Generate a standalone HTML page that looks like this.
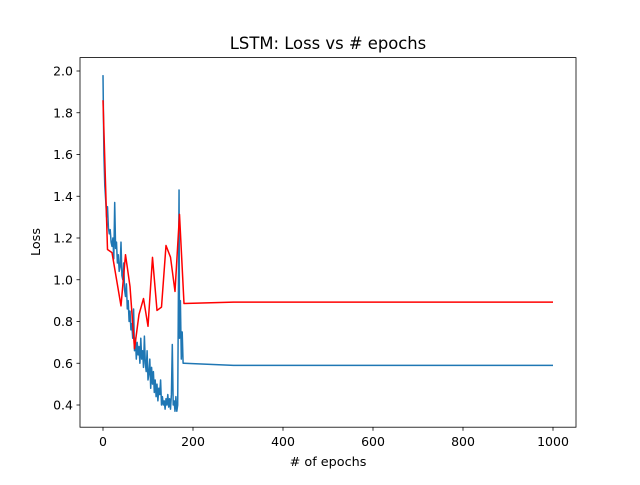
<!DOCTYPE html>
<html><head><meta charset="utf-8"><style>
body{margin:0;background:#fff}
text{font-family:"DejaVu Sans","Liberation Sans",sans-serif;fill:#000}
</style></head><body>
<svg id="chart" width="640" height="480" xmlns="http://www.w3.org/2000/svg">
<rect width="640" height="480" fill="#fff"/>
<text x="328" y="49" font-size="16.4" text-anchor="middle">LSTM: Loss vs # epochs</text>
<text x="328" y="466" font-size="12.8" text-anchor="middle"># of epochs</text>
<text x="40" y="242" font-size="12.8" text-anchor="middle" transform="rotate(-90 40 242)">Loss</text>
<g id="ticks"></g>
<g id="series"></g>
<rect x="80" y="57.6" width="496" height="369.6" fill="none" stroke="#000" stroke-width="0.8"/>
</svg>
<script>
const xTicks=[0,200,400,600,800,1000];
const yTicks=[0.4,0.6,0.8,1.0,1.2,1.4,1.6,1.8,2.0];
const blueEpochs=[0,2,4,6,8,10,12,14,16,18,20,22,24,26,28,30,32,34,36,38,40,42,44,46,48,50,52,54,56,58,60,62,64,66,68,70,72,74,76,78,80,82,84,86,88,90,92,94,96,98,100,102,104,106,108,110,112,114,116,118,120,122,124,126,128,130,132,134,136,138,140,142,144,146,148,150,152,154,156,158,160,162,164,166,169,170,172,174,176,178,180,290,1000];
const blueLoss=[1.98,1.6,1.45,1.38,1.30,1.35,1.25,1.22,1.24,1.18,1.16,1.20,1.10,1.37,1.15,1.18,1.08,1.12,1.04,1.06,1.18,1.02,1.00,1.08,0.95,0.92,0.98,0.86,0.90,0.80,0.85,0.76,0.79,0.72,0.86,0.66,0.72,0.62,0.70,0.64,0.68,0.60,0.72,0.62,0.66,0.58,0.73,0.60,0.56,0.66,0.52,0.55,0.62,0.48,0.58,0.50,0.56,0.46,0.52,0.44,0.50,0.42,0.48,0.45,0.52,0.40,0.44,0.40,0.42,0.38,0.43,0.40,0.45,0.39,0.43,0.38,0.45,0.69,0.40,0.42,0.37,0.44,0.37,0.40,1.43,0.72,0.9,0.62,0.75,0.60,0.60,0.59,0.59];
const redEpochs=[0,10,20,40,50,60,70,80,90,100,110,120,130,140,150,160,170,180,290,1000];
const redLoss=[1.86,1.145,1.13,0.875,1.12,0.968,0.67,0.834,0.91,0.777,1.107,0.853,0.869,1.164,1.108,0.944,1.313,0.886,0.893,0.893];
const NS="http://www.w3.org/2000/svg";
function xs(v){return 103+v*0.45;}
function ys(v){return 71+(2.0-v)*208.75;}
const tg=document.getElementById('ticks');
xTicks.forEach(t=>{
  const l=document.createElementNS(NS,'line');
  
  
  l.setAttribute('x1',xs(t));l.setAttribute('x2',xs(t));l.setAttribute('y1',427.2);l.setAttribute('y2',430.7);l.setAttribute('stroke','#000');l.setAttribute('stroke-width','0.8');
  tg.appendChild(l);
  const tx=document.createElementNS(NS,'text');
  
  
  tx.setAttribute('x',xs(t));tx.setAttribute('y',446);tx.setAttribute('font-size','12.5');tx.setAttribute('text-anchor','middle');
  tx.textContent=t;tg.appendChild(tx);
});
yTicks.forEach(t=>{
  const l=document.createElementNS(NS,'line');
  
  
  l.setAttribute('x1',76.5);l.setAttribute('x2',80);l.setAttribute('y1',ys(t));l.setAttribute('y2',ys(t));l.setAttribute('stroke','#000');l.setAttribute('stroke-width','0.8');
  tg.appendChild(l);
  const tx=document.createElementNS(NS,'text');
  
  
  tx.setAttribute('x',73);tx.setAttribute('y',ys(t)+4.5);tx.setAttribute('font-size','12.5');tx.setAttribute('text-anchor','end');
  tx.textContent=t.toFixed(1);tg.appendChild(tx);
});
const sg=document.getElementById('series');
function line(ex,vals,color,name){
  const p=document.createElementNS(NS,'polyline');
  
  
  p.setAttribute('points',ex.map((e,i)=>xs(e)+','+ys(vals[i])).join(' '));
  p.setAttribute('fill','none');p.setAttribute('stroke',color);p.setAttribute('stroke-width','1.5');p.setAttribute('stroke-linejoin','round');
  sg.appendChild(p);
}
line(blueEpochs,blueLoss,'#1f77b4','train-loss-line');
line(redEpochs,redLoss,'#ff0000','val-loss-line');
</script>
</body></html>
